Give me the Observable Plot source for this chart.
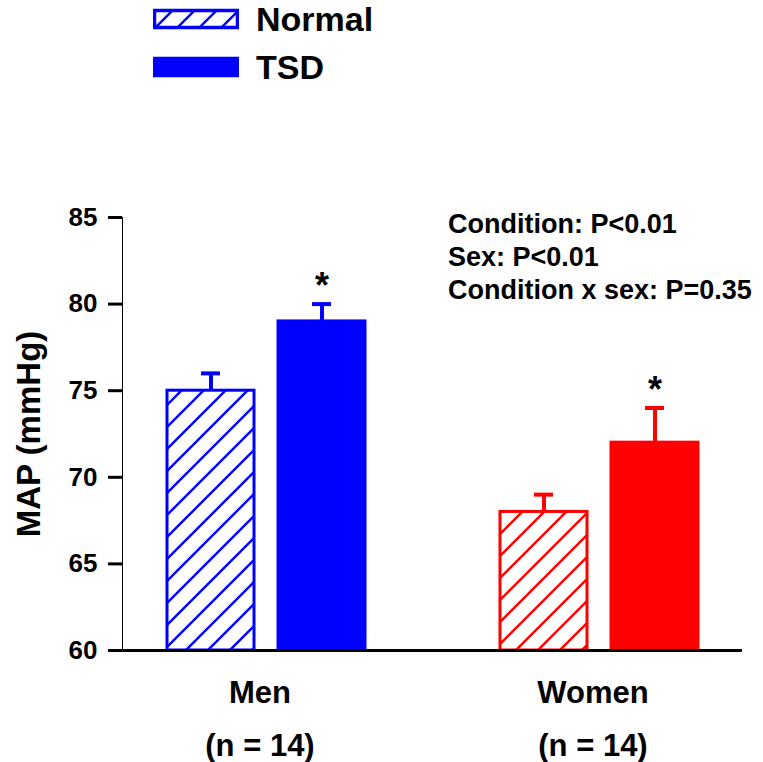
<!DOCTYPE html>
<html>
<head>
<meta charset="utf-8">
<script src="https://cdn.jsdelivr.net/npm/d3@7"></script>
<script src="https://cdn.jsdelivr.net/npm/@observablehq/plot@0.6"></script>
<style>
  body { margin: 0; background: #fff; }
  #wrap { position: relative; width: 763px; height: 762px; font-family: "Liberation Sans", Arial, sans-serif; }
  #legend { position: absolute; left: 153px; top: -5px; font-weight: bold; font-size: 34px; color: #000; }
  .item { display: flex; align-items: center; height: 48px; }
  .item svg { margin-right: 17px; }
  #chart svg g[aria-label="y-axis tick"] path { stroke-width: 3; }
</style>
</head>
<body>
<div id="wrap">
  <div id="chart"></div>
  <div id="legend"></div>
</div>
<script>
// ---- data ----
const sexes = ["Men", "Men", "Women", "Women"];
const conditions = ["Normal", "TSD", "Normal", "TSD"];
const mapMean = [75, 79, 68, 72];
const mapSEM = [1, 1, 1, 2];
const significant = [false, true, false, true];
const groupNames = ["Men", "Women"];
const groupN = ["(n = 14)", "(n = 14)"];
const yTicks = [60, 65, 70, 75, 80, 85];
const statLines = ["Condition: P<0.01", "Sex: P<0.01", "Condition x sex: P=0.35"];
const legendLabels = ["Normal", "TSD"];

// ---- styling ----
const sexColor = {Men: "#0000ff", Women: "#ff0000"};
const hatchId = {Men: "hatchBlue", Women: "hatchRed"};
const font = "'Liberation Sans', Arial, sans-serif";

const key = (s, c) => `${s}-${c}`;
const xDomain = [key("Men","Normal"), key("Men","TSD"), "gap", key("Women","Normal"), key("Women","TSD")];

const bars = sexes.map((s, i) => ({
  key: key(s, conditions[i]),
  sex: s,
  condition: conditions[i],
  mean: mapMean[i],
  top: mapMean[i] + mapSEM[i],
  sig: significant[i],
  color: sexColor[s],
  fill: conditions[i] === "Normal" ? `url(#${hatchId[s]})` : sexColor[s]
}));
const groups = groupNames.map((g, i) => ({key: key(g, "Normal"), label: g + "\n" + groupN[i]}));

const step = 112;

const plot = Plot.plot({
  width: 763,
  height: 762,
  marginTop: 217,
  marginBottom: 112,
  marginLeft: 122,
  marginRight: 21,
  style: {fontFamily: font, fontWeight: "bold", fontSize: "26px", color: "#000", background: "#fff"},
  x: {domain: xDomain, paddingInner: 0.22, paddingOuter: 0.38, axis: null},
  y: {domain: [60, 85], ticks: yTicks, tickSize: 14, tickPadding: 11, label: null, line: true},
  color: {type: "identity"},
  marks: [
    Plot.barY(bars, {x: "key", y1: 60, y2: "mean", fill: "fill", stroke: "color", strokeWidth: 3}),
    Plot.ruleX(bars, {x: "key", y1: "mean", y2: "top", stroke: "color", strokeWidth: 4}),
    Plot.tickY(bars, {x: "key", y: "top", stroke: "color", strokeWidth: 4, insetLeft: 34, insetRight: 34}),
    Plot.ruleY([60], {strokeWidth: 3}),
    Plot.text(bars.filter(d => d.sig), {x: "key", y: "top", text: () => "*", fontSize: 36, lineAnchor: "middle", dy: -18}),
    Plot.text(groups, {x: "key", text: "label", frameAnchor: "bottom", dx: step / 2 - 7, lineAnchor: "top", dy: 16, fontSize: 31, lineHeight: 1.68}),
    Plot.text([statLines.join("\n")], {x: () => "gap", frameAnchor: "top", textAnchor: "start", lineAnchor: "top", dx: 15, dy: -8, fontSize: 27, lineHeight: 1.22}),
    Plot.text(["MAP (mmHg)"], {frameAnchor: "left", textAnchor: "middle", rotate: -90, dx: -93, fontSize: 33})
  ]
});

// hatch patterns
const ns = "http://www.w3.org/2000/svg";
function addPatterns(svg) {
  const defs = document.createElementNS(ns, "defs");
  for (const s of ["Men", "Women"]) {
    const p = document.createElementNS(ns, "pattern");
    p.setAttribute("id", hatchId[s]);
    p.setAttribute("patternUnits", "userSpaceOnUse");
    p.setAttribute("width", 22);
    p.setAttribute("height", 22);
    const bg = document.createElementNS(ns, "rect");
    bg.setAttribute("width", 22); bg.setAttribute("height", 22); bg.setAttribute("fill", "#fff");
    p.appendChild(bg);
    const path = document.createElementNS(ns, "path");
    path.setAttribute("d", "M0,22L22,0M-6,6L6,-6M16,28L28,16");
    path.setAttribute("stroke", sexColor[s]);
    path.setAttribute("stroke-width", 2.4);
    p.appendChild(path);
    defs.appendChild(p);
  }
  svg.insertBefore(defs, svg.firstChild);
}
addPatterns(plot);
document.getElementById("chart").appendChild(plot);

// legend
const legend = document.getElementById("legend");
legendLabels.forEach((lab, i) => {
  const item = document.createElement("div");
  item.className = "item";
  const sw = document.createElementNS(ns, "svg");
  sw.setAttribute("width", 86); sw.setAttribute("height", 22);
  const r = document.createElementNS(ns, "rect");
  r.setAttribute("x", 1.5); r.setAttribute("y", 2.5); r.setAttribute("width", 83); r.setAttribute("height", 17);
  r.setAttribute("fill", i === 0 ? "url(#hatchBlue)" : sexColor.Men);
  r.setAttribute("stroke", sexColor.Men); r.setAttribute("stroke-width", 3.5);
  sw.appendChild(r);
  item.appendChild(sw);
  const t = document.createElement("span");
  t.textContent = lab;
  item.appendChild(t);
  legend.appendChild(item);
});
</script>
</body>
</html>
